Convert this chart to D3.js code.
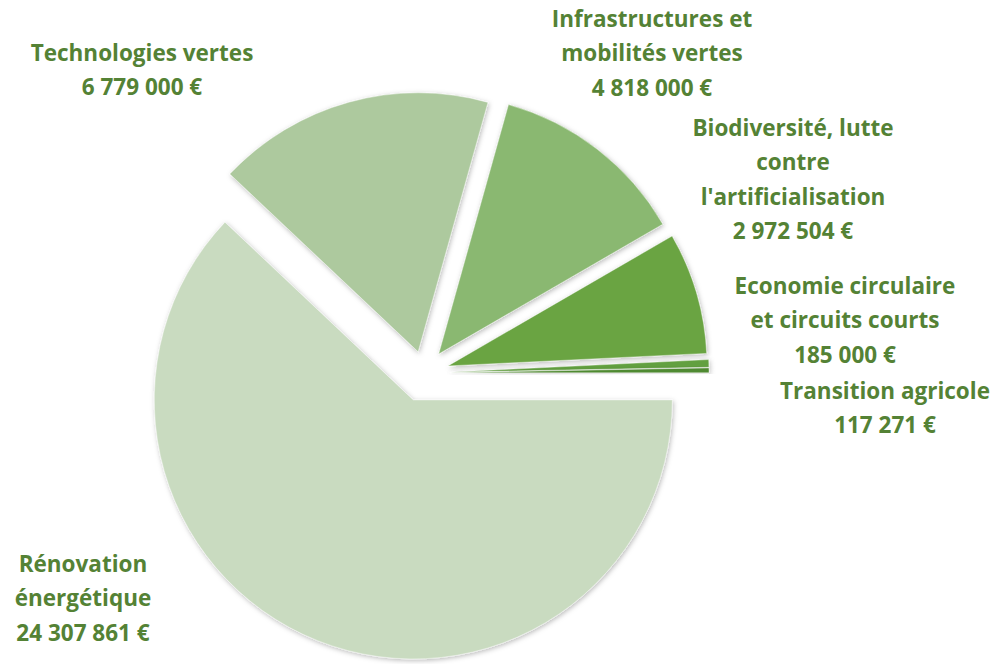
<!DOCTYPE html>
<html>
<head>
<meta charset="utf-8">
<script src="https://cdn.jsdelivr.net/npm/d3@7"></script>
<style>
  html, body { margin: 0; padding: 0; background: #fff; }
  svg { display: block; }
</style>
</head>
<body>
<svg id="chart" width="992" height="664"></svg>
<script>
// ---- data ----
const categories = [
  "Rénovation énergétique",
  "Technologies vertes",
  "Infrastructures et mobilités vertes",
  "Biodiversité, lutte contre l'artificialisation",
  "Economie circulaire et circuits courts",
  "Transition agricole"
];
const values = [24307861, 6779000, 4818000, 2972504, 185000, 117271];
const labelLines = [
  ["Rénovation", "énergétique"],
  ["Technologies vertes"],
  ["Infrastructures et", "mobilités vertes"],
  ["Biodiversité, lutte", "contre", "l'artificialisation"],
  ["Economie circulaire", "et circuits courts"],
  ["Transition agricole"]
];

// ---- styling / layout ----
const colors = ["#c9dbc0", "#adc99e", "#8ab871", "#6aa443", "#62a03f", "#4f8a30"];
const explode = [29, 22, 24, 25, 26, 26];
const labelPos = [
  [83, 563], [142, 52], [652, 18], [793, 127], [845, 285], [885, 390]
];
const cx = 424, cy = 373, radius = 259;
const lineH = 34.5;
const labelColor = "#548235";

const fmt = v => d3.format(",")(v).replace(/,/g, " ") + " €";

const svg = d3.select("#chart");
const defs = svg.append("defs");
const f = defs.append("filter").attr("id", "shadow")
  .attr("x", "-20%").attr("y", "-20%").attr("width", "140%").attr("height", "140%");
f.append("feDropShadow").attr("dx", 1).attr("dy", 1.5).attr("stdDeviation", 2.5)
  .attr("flood-color", "#000").attr("flood-opacity", 0.28);

const pie = d3.pie().sort(null).value(d => d)
  .startAngle(Math.PI / 2).endAngle(Math.PI / 2 + 2 * Math.PI);
const arcs = pie(values);
const arc = d3.arc().innerRadius(0).outerRadius(radius);

const g = svg.append("g").attr("transform", `translate(${cx},${cy})`);
g.selectAll("path").data(arcs).join("path")
  .attr("d", arc)
  .attr("fill", (d, i) => colors[i])
  .attr("stroke", "#fff").attr("stroke-width", 0.4)
  .attr("filter", "url(#shadow)")
  .attr("transform", (d, i) => {
    const a = (d.startAngle + d.endAngle) / 2;
    return `translate(${Math.sin(a) * explode[i]},${-Math.cos(a) * explode[i]})`;
  });

// labels
const lg = svg.append("g")
  .attr("font-family", "'Open Sans', Lato, sans-serif")
  .attr("font-weight", 700)
  .attr("font-size", 22.5)
  .attr("fill", labelColor)
  .attr("text-anchor", "middle");

categories.forEach((c, i) => {
  const lines = labelLines[i].concat([fmt(values[i])]);
  const t = lg.append("text").attr("x", labelPos[i][0]).attr("y", labelPos[i][1]);
  lines.forEach((ln, j) => {
    t.append("tspan").attr("x", labelPos[i][0]).attr("y", labelPos[i][1] + j * lineH)
      .attr("dominant-baseline", "central").text(ln);
  });
});
</script>
</body>
</html>
